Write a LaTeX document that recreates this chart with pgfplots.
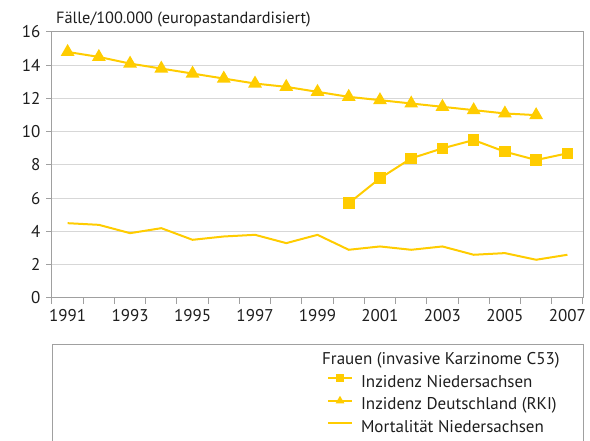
\documentclass[border=0pt]{standalone}
\usepackage{pgfplots}
\pgfplotsset{compat=1.18}
\usepackage{fontspec}
\setmainfont{PT Sans}
\definecolor{ygold}{RGB}{255,204,0}
\definecolor{gridc}{RGB}{215,215,215}
\definecolor{axc}{RGB}{160,160,160}
\definecolor{txt}{RGB}{30,30,30}
\begin{document}
\begin{tikzpicture}[x=1pt,y=1pt]
\useasboundingbox (0,0) rectangle (590,441);
\begin{axis}[
  at={(52pt,143pt)}, anchor=south west,
  width=531pt, height=266pt, scale only axis,
  xmin=1990.5, xmax=2007.5, ymin=0, ymax=16,
  xtick={1990.5,1991.5,...,2007.5}, xticklabels={},
  extra x ticks={1991,1993,...,2007},
  extra x tick style={major tick length=0pt, grid=none},
  ytick={0,2,...,16},
  tick align=outside, major tick length=6pt,
  axis line style={axc, line width=1pt},
  every tick/.style={axc, line width=1pt},
  ymajorgrids, grid style={gridc, line width=1pt},
  xtick pos=bottom, ytick pos=left,
  /pgf/number format/1000 sep={},
  /pgf/number format/assume math mode=true,
  tick label style={font=\fontsize{17}{19}\selectfont, text=txt},
  xticklabel style={yshift=-8pt},
  yticklabel style={xshift=-2pt},
  legend style={draw=none, fill=none, at={(0.5179,-0.2895)}, anchor=north west,
    inner sep=0pt, outer sep=0pt,
    nodes={inner sep=0pt, text height=12pt, text depth=3.5pt},
    font=\fontsize{17}{19}\selectfont, text=txt, row sep=7pt,
    /tikz/every odd column/.append style={column sep=8pt}},
  legend cell align=left,
  legend image code/.code={\draw[#1, mark repeat=2, mark phase=2, mark size=3pt] plot coordinates {(0pt,4.5pt) (12pt,4.5pt) (24pt,4.5pt)};},
]
\addplot[ygold, line width=2pt, mark=square*, mark size=4.8pt, mark options={solid, fill=ygold, draw=ygold}]
 coordinates {(2000,5.7)(2001,7.2)(2002,8.4)(2003,9.0)(2004,9.5)(2005,8.8)(2006,8.3)(2007,8.7)};
\addlegendentry{Inzidenz Niedersachsen}
\addplot[ygold, line width=2pt, mark=triangle*, mark size=6pt, mark options={solid, fill=ygold, draw=ygold}]
 coordinates {(1991,14.8)(1992,14.5)(1993,14.1)(1994,13.8)(1995,13.5)(1996,13.2)(1997,12.9)(1998,12.7)(1999,12.4)(2000,12.1)(2001,11.9)(2002,11.7)(2003,11.5)(2004,11.3)(2005,11.1)(2006,11.0)};
\addlegendentry{Inzidenz Deutschland (RKI)}
\addplot[ygold, line width=2pt]
 coordinates {(1991,4.5)(1992,4.4)(1993,3.9)(1994,4.2)(1995,3.5)(1996,3.7)(1997,3.8)(1998,3.3)(1999,3.8)(2000,2.9)(2001,3.1)(2002,2.9)(2003,3.1)(2004,2.6)(2005,2.7)(2006,2.3)(2007,2.6)};
\addlegendentry{Mortalität Niedersachsen}
\end{axis}
\node[anchor=base west, inner sep=0pt, text=txt, font=\fontsize{16.3}{18}\selectfont] at (56,417) {Fälle/100.000 (europastandardisiert)};
\draw[axc, line width=1pt] (52,0) -- (52,96) -- (583,96) -- (583,0);
\node[anchor=base west, inner sep=0pt, text=txt, font=\fontsize{17}{19}\selectfont] at (322,76) {Frauen (invasive Karzinome C53)};
\end{tikzpicture}
\end{document}
